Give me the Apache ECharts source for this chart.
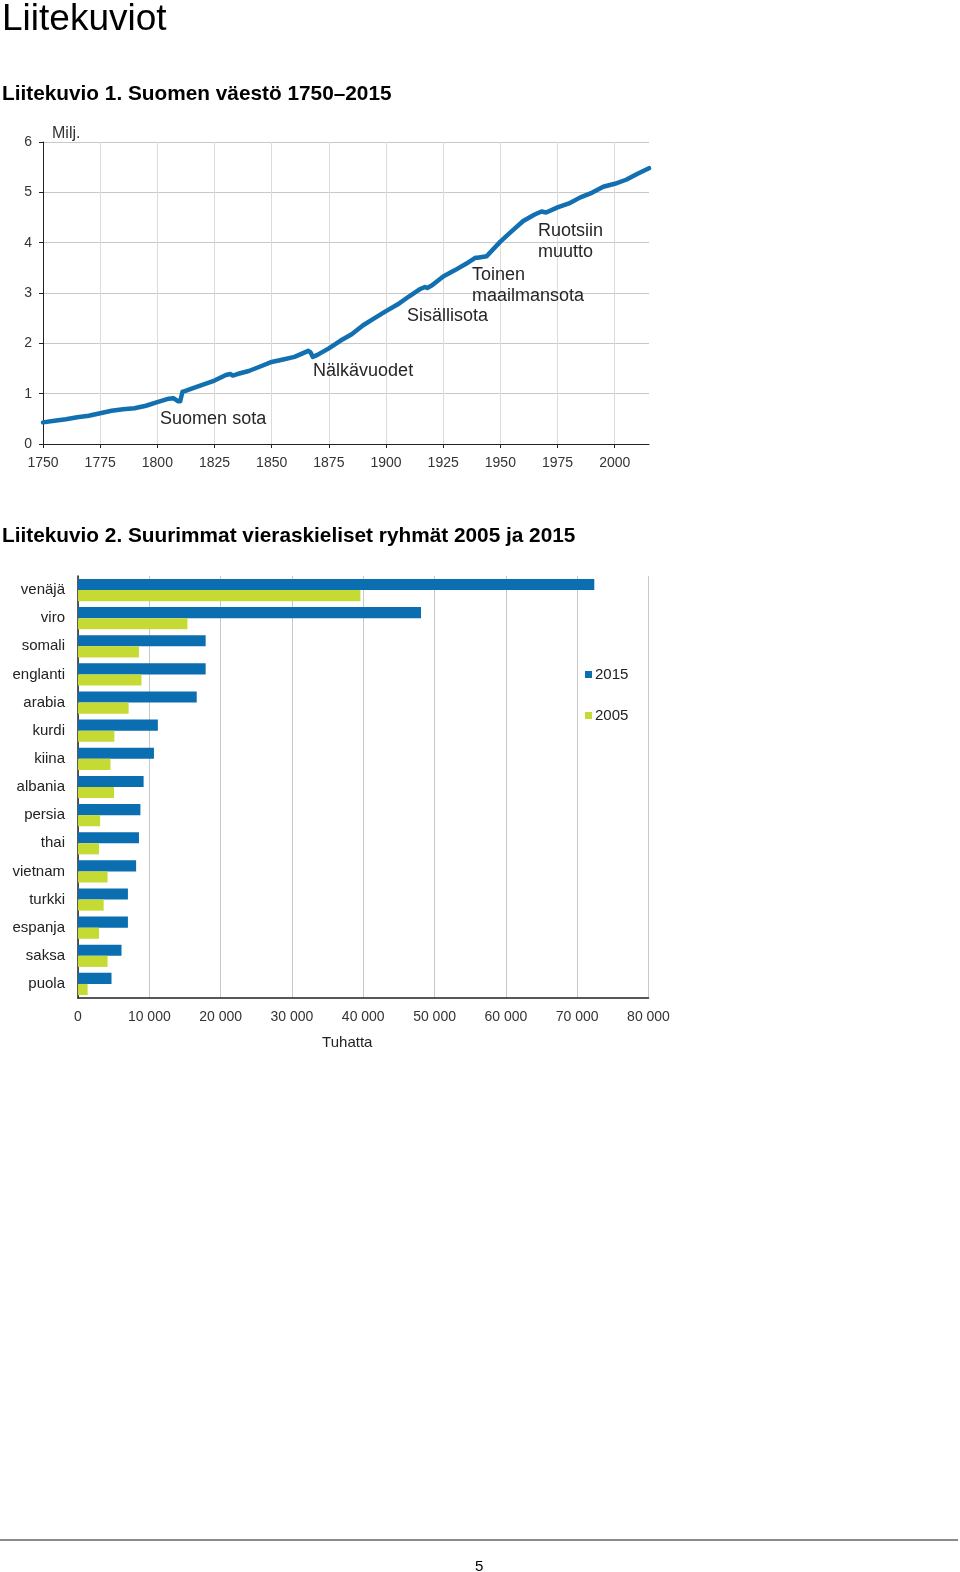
<!DOCTYPE html>
<html>
<head>
<meta charset="utf-8">
<script src="https://cdn.jsdelivr.net/npm/echarts@6/dist/echarts.min.js"></script>
<style>
html,body{margin:0;padding:0;background:#fff;}
#c{width:960px;height:1572px;}
</style>
</head>
<body>
<div id="c"></div>
<script>
// ---- Chart 1: population of Finland (millions) ----
const popYears = [1750,1755,1760,1765,1770,1775,1780,1785,1790,1795,1800,1805,1807,1808,1809,1810,1811,1812,1815,1820,1825,1830,1832,1833,1835,1840,1845,1850,1855,1860,1865,1866,1867,1868,1870,1875,1880,1885,1890,1895,1900,1905,1910,1915,1917,1918,1920,1925,1930,1935,1939,1940,1944,1945,1950,1955,1960,1965,1968,1970,1975,1980,1985,1990,1995,2000,2005,2010,2015];
const popValues = [0.43,0.46,0.49,0.53,0.56,0.61,0.66,0.69,0.71,0.76,0.83,0.90,0.91,0.88,0.85,0.85,1.04,1.05,1.10,1.18,1.26,1.37,1.39,1.36,1.39,1.45,1.54,1.63,1.68,1.73,1.83,1.85,1.82,1.73,1.77,1.90,2.05,2.18,2.36,2.50,2.64,2.77,2.93,3.08,3.12,3.10,3.15,3.33,3.45,3.58,3.70,3.70,3.73,3.78,4.02,4.23,4.43,4.56,4.62,4.60,4.70,4.78,4.90,4.99,5.11,5.17,5.25,5.37,5.48];
const popXTicks = [1750,1775,1800,1825,1850,1875,1900,1925,1950,1975,2000];
const popYTicks = [0,1,2,3,4,5,6];
const eventLabels = ['Suomen sota','Nälkävuodet','Sisällisota','Toinen\nmaailmansota','Ruotsiin\nmuutto'];

// ---- Chart 2: largest foreign-language groups ----
const languages = ['venäjä','viro','somali','englanti','arabia','kurdi','kiina','albania','persia','thai','vietnam','turkki','espanja','saksa','puola'];
const speakers2015 = [72400,48100,17900,17900,16650,11200,10650,9200,8750,8550,8150,7000,7000,6100,4700];
const speakers2005 = [39600,15350,8550,8900,7100,5100,4550,5050,3100,2950,4150,3600,2950,4150,1350];
const barXTicks = [0,10000,20000,30000,40000,50000,60000,70000,80000];

const FONT = "'Liberation Sans', Arial, sans-serif";
const popData = popYears.map((y,i)=>[y,popValues[i]]);
const fmtThousands = v => String(v).replace(/\B(?=(\d{3})+(?!\d))/g,' ');

// vertical split line colors: last one (at max 2015) hidden
const vColors = popXTicks.map(()=>'#dcdcdc').concat(['rgba(0,0,0,0)']);

const chart = echarts.init(document.getElementById('c'), null, {renderer:'canvas'});
const evCoords = [[1801.2,0.49],[1868.1,1.44],[1909.2,2.55],[1937.6,3.15],[1966.5,4.03]];

chart.setOption({
  animation:false,
  backgroundColor:'#ffffff',
  textStyle:{fontFamily:FONT},
  title:[
    {text:'Liitekuviot', left:2, top:1, padding:0, textStyle:{fontFamily:FONT,fontSize:37,fontWeight:'normal',color:'#000'}},
    {text:'Liitekuvio 1. Suomen väestö 1750–2015', left:2, top:84, padding:0, textStyle:{fontFamily:FONT,fontSize:20.8,fontWeight:'bold',color:'#000'}},
    {text:'Liitekuvio 2. Suurimmat vieraskieliset ryhmät 2005 ja 2015', left:2, top:526, padding:0, textStyle:{fontFamily:FONT,fontSize:20.8,fontWeight:'bold',color:'#000'}},
    {text:'Milj.', left:52, top:126, padding:0, textStyle:{fontFamily:FONT,fontSize:16,fontWeight:'normal',color:'#333'}}
  ],
  legend:{
    data:['2015','2005'], orient:'vertical', left:580, top:662,
    itemWidth:7, itemHeight:7, itemGap:26, icon:'rect',
    textStyle:{fontFamily:FONT,fontSize:15,color:'#222',padding:[0,0,0,-2]}
  },
  grid:[
    {left:43, top:142, width:606, height:302},
    {left:78, top:576, width:570.5, height:422}
  ],
  xAxis:[
    {gridIndex:0, type:'value', min:1750, max:2015, interval:25,
     axisLine:{show:true,lineStyle:{color:'#222',width:1}},
     axisTick:{show:true,length:4,lineStyle:{color:'#222'}},
     axisLabel:{fontFamily:FONT,fontSize:14,color:'#333',margin:12,showMaxLabel:false,
       formatter:v=>(popXTicks.indexOf(v)>=0? String(v):'')},
     splitLine:{show:true,lineStyle:{color:vColors,width:1}}},
    {gridIndex:1, type:'value', min:0, max:80000, interval:10000,
     axisLine:{show:true,lineStyle:{color:'#222',width:1.5}},
     axisTick:{show:false},
     axisLabel:{fontFamily:FONT,fontSize:14,color:'#333',margin:12,
       formatter:v=>(barXTicks.indexOf(v)>=0? fmtThousands(v):'')},
     splitLine:{show:true,lineStyle:{color:'#c8c8c8',width:1}},
     name:'Tuhatta', nameLocation:'middle', nameGap:37,
     nameTextStyle:{fontFamily:FONT,fontSize:15,color:'#222',padding:[0,32,0,0]}}
  ],
  yAxis:[
    {gridIndex:0, type:'value', min:0, max:6, interval:1,
     axisLine:{show:true,lineStyle:{color:'#222',width:1}},
     axisTick:{show:true,length:4,lineStyle:{color:'#222'}},
     axisLabel:{fontFamily:FONT,fontSize:14,color:'#333',margin:11,
       formatter:v=>(popYTicks.indexOf(v)>=0? String(v):'')},
     splitLine:{show:true,lineStyle:{color:'#c8c8c8',width:1}}},
    {gridIndex:1, type:'category', data:languages, inverse:true,
     axisLine:{show:true,lineStyle:{color:'#222',width:1.5}},
     axisTick:{show:false},
     axisLabel:{fontFamily:FONT,fontSize:15,color:'#222',margin:13},
     splitLine:{show:false}}
  ],
  series:[
    {type:'line', name:'Väestö', xAxisIndex:0, yAxisIndex:0, data:popData,
     showSymbol:false, symbol:'none', smooth:false,
     lineStyle:{color:'#1270b0',width:4.5,cap:'round',join:'round'},
     markPoint:{
       symbol:'circle', symbolSize:0, silent:true,
       label:{show:true, position:'right', distance:0, fontFamily:FONT, fontSize:18, color:'#262626', lineHeight:21, align:'left'},
       data: eventLabels.map((t,i)=>({coord:evCoords[i], value:t, label:{formatter:t}}))
     }},
    {type:'bar', name:'2015', xAxisIndex:1, yAxisIndex:1, data:speakers2015,
     itemStyle:{color:'#0a6eb0'}, barGap:'0%', barCategoryGap:'21%'},
    {type:'bar', name:'2005', xAxisIndex:1, yAxisIndex:1, data:speakers2005,
     itemStyle:{color:'#c6da34'}, barGap:'0%', barCategoryGap:'21%'}
  ],
  graphic:[
    {type:'line', shape:{x1:0,y1:1540,x2:958,y2:1540}, style:{stroke:'#8a8a8a',lineWidth:2}, silent:true},
    {type:'text', left:475, top:1559, style:{text:'5', font:"15px 'Liberation Sans', Arial, sans-serif", fill:'#000'}}
  ]
});
</script>
</body>
</html>
